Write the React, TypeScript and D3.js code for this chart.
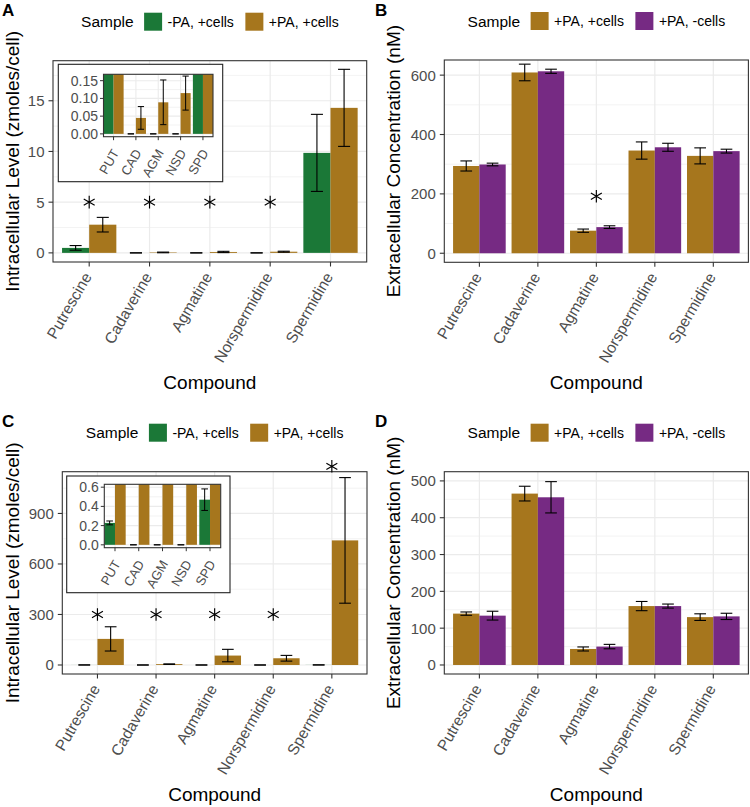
import React from "react";
import * as d3 from "d3";

const FONT = "'Liberation Sans', Arial, Helvetica, sans-serif";

const compounds = ["Putrescine", "Cadaverine", "Agmatine", "Norspermidine", "Spermidine"];
const insetLabels = ["PUT", "CAD", "AGM", "NSD", "SPD"];
const legendTitle = "Sample";
const xTitle = "Compound";
const intraTitle = "Intracellular Level (zmoles/cell)";
const extraTitle = "Extracellular Concentration (nM)";

const NOPA_CELLS = "-PA, +cells";
const PA_CELLS = "+PA, +cells";
const PA_NOCELLS = "+PA, -cells";
const seriesColors: Record<string, string> = {
  [NOPA_CELLS]: "#1b7837",
  [PA_CELLS]: "#a6761d",
  [PA_NOCELLS]: "#762a83",
};

// Panel A (intracellular)
const aNoPaMean = [0.49, 0, 0, 0, 9.86];
const aNoPaSd = [0.23, 0, 0, 0, 3.8];
const aPaMean = [2.78, 0.045, 0.089, 0.115, 14.3];
const aPaSd = [0.72, 0.032, 0.063, 0.048, 3.8];
const aStars = [5, 5, 5, 5, null];
const aTicks = [0, 5, 10, 15];
const aInsetTicks = [0, 0.05, 0.1, 0.15];

// Panel B (extracellular)
const bPaCellsMean = [294, 609, 76, 346, 328];
const bPaCellsSd = [17, 28, 5.5, 29, 27];
const bPaNoCellsMean = [299, 613, 88, 357, 344];
const bPaNoCellsSd = [4.5, 7, 4.5, 13.5, 6.5];
const bStars = [null, null, 192, null, null];
const bTicks = [0, 200, 400, 600];

// Panel C (intracellular)
const cNoPaMean = [0.228, 0, 0, 0, 0.47];
const cNoPaSd = [0.02, 0, 0, 0, 0.112];
const cPaMean = [155, 5, 56, 40, 740];
const cPaSd = [72, 1.5, 37, 17, 373];
const cStars = [300, 300, 300, 300, 1180];
const cTicks = [0, 300, 600, 900];
const cInsetTicks = [0, 0.2, 0.4, 0.6];

// Panel D (extracellular)
const dPaCellsMean = [139.5, 465.5, 43.5, 160, 130];
const dPaCellsSd = [4.5, 20, 5.5, 12.5, 9];
const dPaNoCellsMean = [134, 455.5, 50, 160, 132];
const dPaNoCellsSd = [12, 42.5, 6, 5.5, 8.5];
const dStars = [null, null, null, null, null];
const dTicks = [0, 100, 200, 300, 400, 500];

type Series = { name: string; mean: number[]; sd: number[] };

let _ctx: CanvasRenderingContext2D | null = null;
function measure(text: string, size: number, weight = "normal") {
  if (!_ctx) _ctx = document.createElement("canvas").getContext("2d");
  if (!_ctx) return text.length * size * 0.55;
  _ctx.font = `${weight} ${size}px 'Liberation Sans', Arial, sans-serif`;
  return _ctx.measureText(text).width;
}

const starPath = d3.symbol().type(d3.symbolAsterisk).size(112)() as string;

function Legend({ cx, cy, names }: { cx: number; cy: number; names: string[] }) {
  const titleSize = 15.5;
  const labSize = 14;
  const key = 18;
  const tw = measure(legendTitle, titleSize);
  const lw = names.map((n) => measure(n, labSize));
  const total = tw + 10.5 + names.reduce((s, _n, i) => s + key + 5.5 + lw[i], 0) + 11.5 * (names.length - 1);
  let xp = cx - total / 2;
  const items: React.ReactNode[] = [];
  items.push(
    <text key="t" x={xp} y={cy} dy="0.36em" fontSize={titleSize} fill="#000">
      {legendTitle}
    </text>
  );
  xp += tw + 10.5;
  names.forEach((n, i) => {
    items.push(<rect key={"k" + i} x={xp} y={cy - key / 2} width={key} height={key} fill={seriesColors[n]} />);
    xp += key + 5.5;
    items.push(
      <text key={"l" + i} x={xp} y={cy} dy="0.36em" fontSize={labSize} fill="#000">
        {n}
      </text>
    );
    xp += lw[i] + 11.5;
  });
  return <g>{items}</g>;
}

function minorTicks(majors: number[], dom: [number, number]) {
  const d = majors[1] - majors[0];
  return d3.range(majors[0] - d / 2, dom[1], d).filter((v) => v > dom[0] && v < dom[1]);
}

interface InsetCfg {
  id: string;
  box: [number, number, number, number];
  panel: [number, number, number, number];
  yDomain: [number, number];
  yTicks: number[];
  fmt: (v: number) => string;
  series: Series[];
}

function Inset({ c }: { c: InsetCfg }) {
  const [bx0, by0, bx1, by1] = c.box;
  const [l, t, r, b] = c.panel;
  const x = d3.scalePoint<string>().domain(insetLabels).range([l, r]).padding(0.45);
  const y = d3.scaleLinear().domain(c.yDomain).range([b, t]);
  const step = x.step();
  const bw = step * 0.45;
  const ew = step * 0.28;
  const minors = minorTicks(c.yTicks, c.yDomain);
  return (
    <g>
      <rect x={bx0} y={by0} width={bx1 - bx0} height={by1 - by0} fill="#fff" stroke="#222" strokeWidth={1.1} />
      <defs>
        <clipPath id={c.id}>
          <rect x={l} y={t} width={r - l} height={b - t} />
        </clipPath>
      </defs>
      <g clipPath={`url(#${c.id})`}>
        {minors.map((v) => (
          <line key={"mi" + v} x1={l} x2={r} y1={y(v)} y2={y(v)} stroke="#ebebeb" strokeWidth={0.6} />
        ))}
        {c.yTicks.map((v) => (
          <line key={"ma" + v} x1={l} x2={r} y1={y(v)} y2={y(v)} stroke="#ebebeb" strokeWidth={1.1} />
        ))}
        {insetLabels.map((k) => (
          <line key={"v" + k} x1={x(k)!} x2={x(k)!} y1={t} y2={b} stroke="#ebebeb" strokeWidth={1.1} />
        ))}
        {c.series.map((s, si) =>
          insetLabels.map((k, i) => {
            const x0 = x(k)! - step * 0.45 + si * bw;
            const y0 = y(Math.max(0, s.mean[i]));
            return <rect key={s.name + k} x={x0} y={y0} width={bw} height={y(0) - y0} fill={seriesColors[s.name]} />;
          })
        )}
        {c.series.map((s, si) =>
          insetLabels.map((k, i) => {
            const cx = x(k)! - step * 0.45 + si * bw + bw / 2;
            const y1 = y(s.mean[i] + s.sd[i]);
            const y2 = y(s.mean[i] - s.sd[i]);
            return (
              <g key={"e" + s.name + k} stroke="#000" strokeWidth={1}>
                <line x1={cx} x2={cx} y1={y1} y2={y2} />
                <line x1={cx - ew / 2} x2={cx + ew / 2} y1={y1} y2={y1} />
                <line x1={cx - ew / 2} x2={cx + ew / 2} y1={y2} y2={y2} />
              </g>
            );
          })
        )}
      </g>
      <rect x={l} y={t} width={r - l} height={b - t} fill="none" stroke="#333" strokeWidth={1.1} />
      {c.yTicks.map((v) => (
        <g key={"yt" + v}>
          <line x1={l - 3.5} x2={l} y1={y(v)} y2={y(v)} stroke="#333" strokeWidth={1} />
          <text x={l - 5.5} y={y(v)} dy="0.36em" textAnchor="end" fontSize={14} fill="#4d4d4d">
            {c.fmt(v)}
          </text>
        </g>
      ))}
      {insetLabels.map((k) => (
        <g key={"xt" + k}>
          <line x1={x(k)!} x2={x(k)!} y1={b} y2={b + 3.5} stroke="#333" strokeWidth={1} />
          <text transform={`translate(${x(k)! + 6},${b + 16}) rotate(-60)`} textAnchor="end" fontSize={13} fill="#4d4d4d">
            {k}
          </text>
        </g>
      ))}
    </g>
  );
}

interface PanelCfg {
  letter: string;
  box: { l: number; r: number; t: number; b: number };
  yDomain: [number, number];
  yTicks: number[];
  series: Series[];
  stars: (number | null)[];
  yTitle: string;
  yTitleX: number;
  inset?: InsetCfg;
}

function Panel({ p }: { p: PanelCfg }) {
  const { l, r, t, b } = p.box;
  const x = d3.scalePoint<string>().domain(compounds).range([l, r]).padding(0.6);
  const y = d3.scaleLinear().domain(p.yDomain).range([b, t]);
  const step = x.step();
  const bw = step * 0.45;
  const ew = step * 0.2;
  const minors = minorTicks(p.yTicks, p.yDomain);
  const cx = (l + r) / 2;
  const cy = (t + b) / 2;
  return (
    <g>
      <rect x={l} y={t} width={r - l} height={b - t} fill="#fff" />
      {minors.map((v) => (
        <line key={"mi" + v} x1={l} x2={r} y1={y(v)} y2={y(v)} stroke="#ebebeb" strokeWidth={0.6} />
      ))}
      {p.yTicks.map((v) => (
        <line key={"ma" + v} x1={l} x2={r} y1={y(v)} y2={y(v)} stroke="#ebebeb" strokeWidth={1.2} />
      ))}
      {compounds.map((k) => (
        <line key={"v" + k} x1={x(k)!} x2={x(k)!} y1={t} y2={b} stroke="#ebebeb" strokeWidth={1.2} />
      ))}
      {p.series.map((s, si) =>
        compounds.map((k, i) => {
          const x0 = x(k)! - step * 0.45 + si * bw;
          const y0 = y(s.mean[i]);
          return <rect key={s.name + k} x={x0} y={y0} width={bw} height={y(0) - y0} fill={seriesColors[s.name]} />;
        })
      )}
      {p.series.map((s, si) =>
        compounds.map((k, i) => {
          const ex = x(k)! - step * 0.45 + si * bw + bw / 2;
          const y1 = y(s.mean[i] + s.sd[i]);
          const y2 = y(Math.max(s.mean[i] - s.sd[i], p.yDomain[0]));
          return (
            <g key={"e" + s.name + k} stroke="#000" strokeWidth={1.1}>
              <line x1={ex} x2={ex} y1={y1} y2={y2} />
              <line x1={ex - ew / 2} x2={ex + ew / 2} y1={y1} y2={y1} />
              <line x1={ex - ew / 2} x2={ex + ew / 2} y1={y2} y2={y2} />
            </g>
          );
        })
      )}
      {p.inset && <Inset c={p.inset} />}
      <rect x={l} y={t} width={r - l} height={b - t} fill="none" stroke="#333" strokeWidth={1.1} />
      {p.yTicks.map((v) => (
        <g key={"yt" + v}>
          <line x1={l - 4.5} x2={l} y1={y(v)} y2={y(v)} stroke="#333" strokeWidth={1.1} />
          <text x={l - 8.5} y={y(v)} dy="0.36em" textAnchor="end" fontSize={15} fill="#4d4d4d">
            {v}
          </text>
        </g>
      ))}
      {compounds.map((k) => (
        <g key={"xt" + k}>
          <line x1={x(k)!} x2={x(k)!} y1={b} y2={b + 4.5} stroke="#333" strokeWidth={1.1} />
          <text transform={`translate(${x(k)! + 3},${b + 14.5}) rotate(-60)`} textAnchor="end" fontSize={15.5} fill="#4d4d4d">
            {k}
          </text>
        </g>
      ))}
      {compounds.map((k, i) =>
        p.stars[i] == null ? null : (
          <path
            key={"s" + k}
            d={starPath}
            transform={`translate(${x(k)!},${y(p.stars[i] as number)})`}
            fill="none"
            stroke="#000"
            strokeWidth={1.15}
          />
        )
      )}
      <text x={cx} y={b + 127} textAnchor="middle" fontSize={19} fill="#000">
        {xTitle}
      </text>
      <text transform={`translate(${p.yTitleX},${cy}) rotate(-90)`} textAnchor="middle" fontSize={19} fill="#000">
        {p.yTitle}
      </text>
      <Legend cx={cx} cy={t - 39} names={p.series.map((s) => s.name)} />
      <text x={p.yTitleX < 100 ? 2 : 375} y={t - 44.5} fontSize={17} fontWeight="bold" fill="#000">
        {p.letter}
      </text>
    </g>
  );
}

const fmt2 = d3.format(".2f");
const fmt1 = d3.format(".1f");

const panels: PanelCfg[] = [
  {
    letter: "A",
    box: { l: 53, r: 366.7, t: 60.7, b: 262 },
    yDomain: [-0.9, 18.95],
    yTicks: aTicks,
    series: [
      { name: NOPA_CELLS, mean: aNoPaMean, sd: aNoPaSd },
      { name: PA_CELLS, mean: aPaMean, sd: aPaSd },
    ],
    stars: aStars,
    yTitle: intraTitle,
    yTitleX: 18.7,
    inset: {
      id: "clipA",
      box: [58.3, 64.3, 222.7, 181.7],
      panel: [103.5, 74.3, 213, 136.7],
      yDomain: [-0.008, 0.168],
      yTicks: aInsetTicks,
      fmt: fmt2,
      series: [
        { name: NOPA_CELLS, mean: aNoPaMean, sd: aNoPaSd },
        { name: PA_CELLS, mean: aPaMean, sd: aPaSd },
      ],
    },
  },
  {
    letter: "B",
    box: { l: 444.3, r: 748.4, t: 60, b: 262.3 },
    yDomain: [-30.5, 651],
    yTicks: bTicks,
    series: [
      { name: PA_CELLS, mean: bPaCellsMean, sd: bPaCellsSd },
      { name: PA_NOCELLS, mean: bPaNoCellsMean, sd: bPaNoCellsSd },
    ],
    stars: bStars,
    yTitle: extraTitle,
    yTitleX: 400.4,
  },
  {
    letter: "C",
    box: { l: 62.3, r: 367, t: 471.7, b: 674 },
    yDomain: [-53.5, 1148],
    yTicks: cTicks,
    series: [
      { name: NOPA_CELLS, mean: cNoPaMean, sd: cNoPaSd },
      { name: PA_CELLS, mean: cPaMean, sd: cPaSd },
    ],
    stars: cStars,
    yTitle: intraTitle,
    yTitleX: 18.7,
    inset: {
      id: "clipC",
      box: [66.7, 476, 230, 592.7],
      panel: [104.3, 484.3, 220.7, 547.7],
      yDomain: [-0.03, 0.63],
      yTicks: cInsetTicks,
      fmt: fmt1,
      series: [
        { name: NOPA_CELLS, mean: cNoPaMean, sd: cNoPaSd },
        { name: PA_CELLS, mean: cPaMean, sd: cPaSd },
      ],
    },
  },
  {
    letter: "D",
    box: { l: 444.3, r: 748.4, t: 471.7, b: 674 },
    yDomain: [-24.5, 525],
    yTicks: dTicks,
    series: [
      { name: PA_CELLS, mean: dPaCellsMean, sd: dPaCellsSd },
      { name: PA_NOCELLS, mean: dPaNoCellsMean, sd: dPaNoCellsSd },
    ],
    stars: dStars,
    yTitle: extraTitle,
    yTitleX: 400.4,
  },
];

export default function App() {
  return (
    <svg
      width={750}
      height={807}
      viewBox="0 0 750 807"
      style={{ position: "absolute", left: 0, top: 0, background: "#fff" }}
      fontFamily={FONT}
    >
      <rect width={750} height={807} fill="#fff" />
      {panels.map((p) => (
        <Panel key={p.letter} p={p} />
      ))}
    </svg>
  );
}
